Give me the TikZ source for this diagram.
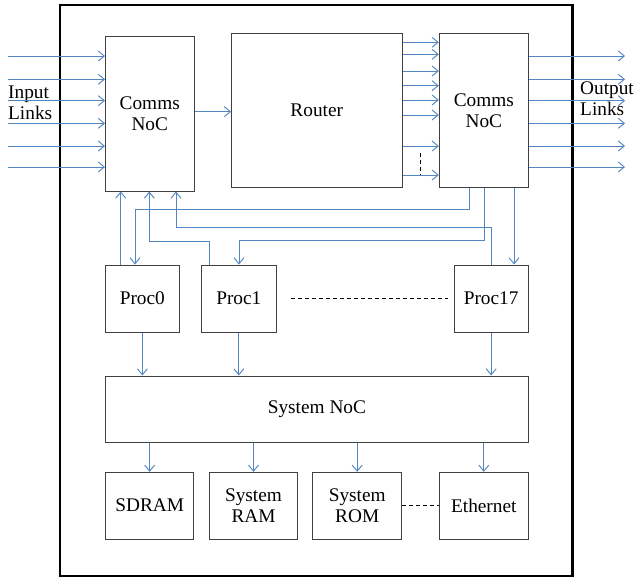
\documentclass[tikz,border=0pt]{standalone}
\usepackage{fontspec}
\setmainfont{Liberation Serif}
\usetikzlibrary{arrows.meta}
\definecolor{lnblue}{RGB}{84,134,194}
\definecolor{boxgray}{RGB}{64,64,64}
\tikzset{
  box/.style={draw=boxgray, line width=1pt, fill=white, inner sep=0pt, align=center,
    font=\fontsize{19.3}{21.5}\selectfont},
  ln/.style={draw=lnblue, line width=0.95pt},
  ar/.style={ln, -{Straight Barb[length=6pt,width=10pt]}},
  dsh/.style={draw=black, line width=0.9pt, dash pattern=on 4pt off 3pt},
  lbl/.style={inner sep=0pt, align=left, font=\fontsize{19.3}{21}\selectfont},
}
\begin{document}
\begin{tikzpicture}[x=1pt,y=-1pt]
\useasboundingbox (0,0) rectangle (634,579);
% outer frame
\draw[line width=2.8pt] (60,5) rectangle (572.5,576);
% nodes
\node[box, minimum width=88.5pt, minimum height=154.5pt] (cl) at (149.75,113.75) {Comms\\NoC};
\node[box, minimum width=170.5pt, minimum height=154.5pt] (rt) at (316.75,110.25) {Router};
\node[box, minimum width=89pt, minimum height=154.4pt] (cr) at (483.8,110.5) {Comms\\NoC};
\node[box, minimum width=73.3pt, minimum height=67pt] (p0) at (142.35,298.5) {Proc0};
\node[box, minimum width=74.3pt, minimum height=67pt] (p1) at (238.85,298.5) {Proc1};
\node[box, minimum width=74.3pt, minimum height=67pt] (p17) at (491.15,298.5) {Proc17};
\node[box, minimum width=422.8pt, minimum height=66.7pt] (sn) at (316.9,409.35) {System NoC};
\node[box, minimum width=88pt, minimum height=66.7pt] (sd) at (149.7,505.65) {SDRAM};
\node[box, minimum width=88.4pt, minimum height=66.7pt] (ram) at (253.5,505.65) {System\\RAM};
\node[box, minimum width=89pt, minimum height=66.7pt] (rom) at (357.2,505.65) {System\\ROM};
\node[box, minimum width=89pt, minimum height=66.7pt] (eth) at (483.8,505.65) {Ethernet};
% labels
\node[lbl, anchor=west] (inl) at (8,103) {Input\\Links};
\node[lbl, anchor=west] (outl) at (580,98.5) {Output\\Links};
% input links
\foreach \y [count=\i] in {56,79.3,100.7,123.3,146,167}{
  \coordinate (in\i) at (8,\y);
  \draw[ar] (in\i) -- (in\i -| cl.west);
}
% output links
\foreach \y [count=\i] in {56,79.3,100.7,123.3,146,167}{
  \coordinate (out\i) at (625,\y);
  \draw[ar] (out\i -| cr.east) -- (out\i);
}
% comms -> router
\draw[ar] (cl.east |- 0,111.7) -- (rt.west |- 0,111.7);
% router -> comms
\foreach \y in {42.3,54.3,71,85.7,100,115,146,175}{
  \draw[ar] (rt.east |- 0,\y) -- (cr.west |- 0,\y);
}
\draw[dsh] (rt.east |- 0,152.7) ++(18,0) coordinate (rd1) -- (rd1 |- 0,174.3);
% comms <-> procs
\draw[ar] (p0.north -| 120.7,0) -- (cl.south -| 120.7,0);
\draw[ar] (cr.south -| 469,0) -- (469,209.3) -- (135,209.3) -- (p0.north -| 135,0);
\draw[ar] (p1.north -| 209,0) -- (209,241.7) -- (149.3,241.7) -- (cl.south -| 149.3,0);
\draw[ar] (p17.north -| 491.7,0) -- (491.7,227.3) -- (176,227.3) -- (cl.south -| 176,0);
\draw[ar] (cr.south -| 484,0) -- (484,240.7) -- (239,240.7) -- (p1.north -| 239,0);
\draw[ar] (cr.south -| 514,0) -- (p17.north -| 514,0);
% procs dashed
\draw[dsh] ([xshift=14pt]p1.east) -- ([xshift=-6pt]p17.west);
% procs -> system noc
\draw[ar] (p0.south) -- (sn.north -| p0.south);
\draw[ar] (p1.south) -- (sn.north -| p1.south);
\draw[ar] (p17.south) -- (sn.north -| p17.south);
% system noc -> peripherals
\draw[ar] (sn.south -| sd.north) -- (sd.north);
\draw[ar] (sn.south -| ram.north) -- (ram.north);
\draw[ar] (sn.south -| rom.north) -- (rom.north);
\draw[ar] (sn.south -| eth.north) -- (eth.north);
\draw[dsh] (rom.east) -- (eth.west);
\end{tikzpicture}
\end{document}
